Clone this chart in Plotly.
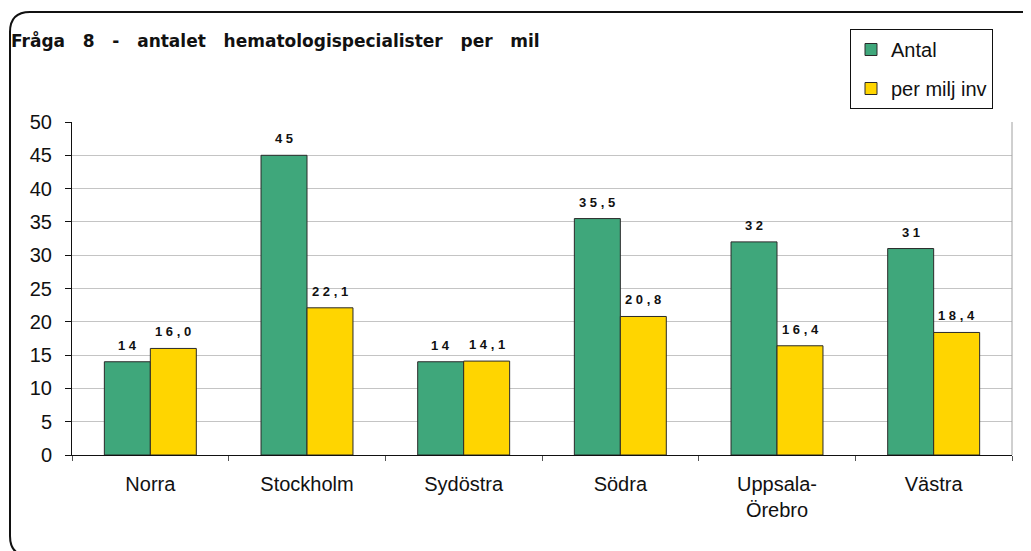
import plotly.graph_objects as go

categories = ["Norra", "Stockholm", "Sydöstra", "Södra", "Uppsala-<br>Örebro", "Västra"]
antal = [14, 45, 14, 35.5, 32, 31]
per_milj = [16.0, 22.1, 14.1, 20.8, 16.4, 18.4]
y_ticks = list(range(0, 51, 5))

GREEN = "#3FA77B"
YELLOW = "#FFD500"

OFF = 8  # page body margin
W, H = 1031 - OFF, 551 - OFF
PL, PR, PT, PB = 72, 1012, 122, 455  # plot area in screen coords
L, T = PL - OFF, PT - OFF
R, B = W - (PR - OFF), H - (PB - OFF)
PW, PH = PR - PL, PB - PT


def fmt_antal(v):
    s = str(int(v)) if float(v).is_integer() else f"{v:.1f}".replace(".", ",")
    return " ".join(s)


def fmt_milj(v):
    return " ".join(f"{v:.1f}".replace(".", ","))


def px(x):
    return (x - PL) / PW


def py(y):
    return (PB - y) / PH


fig = go.Figure()
fig.add_trace(go.Bar(x=categories, y=antal, name="Antal", legendgroup="a",
                     marker=dict(color=GREEN, line=dict(color="#2a2a2a", width=1))))
fig.add_trace(go.Bar(x=categories, y=per_milj, name="per milj inv", legendgroup="b",
                     marker=dict(color=YELLOW, line=dict(color="#2a2a2a", width=1))))

lab_font = dict(family="Liberation Sans", size=13, color="#111")
annotations = []
for c, v in zip(categories, antal):
    annotations.append(dict(x=c, y=v, xref="x", yref="y", text="<b>" + fmt_antal(v) + "</b>",
                            showarrow=False, xshift=-23, yshift=7, yanchor="bottom", font=lab_font))
for c, v in zip(categories, per_milj):
    annotations.append(dict(x=c, y=v, xref="x", yref="y", text="<b>" + fmt_milj(v) + "</b>",
                            showarrow=False, xshift=23, yshift=7, yanchor="bottom", font=lab_font))

annotations.append(dict(xref="paper", yref="paper", x=px(9), y=py(40), xanchor="left", yanchor="middle",
                        text="<b>Fråga   8   -   antalet   hematologispecialister   per   mil</b>",
                        showarrow=False, font=dict(family="DejaVu Sans", size=17, color="#111")))

r = 20
x0, y0, y1, xr = 10, 12, 556, 1045
path = (f"M {px(xr)} {py(y0)} L {px(x0 + r)} {py(y0)} Q {px(x0)} {py(y0)} {px(x0)} {py(y0 + r)} "
        f"L {px(x0)} {py(y1 - r)} Q {px(x0)} {py(y1)} {px(x0 + r)} {py(y1)} L {px(xr)} {py(y1)}")

shapes = [
    dict(type="path", xref="paper", yref="paper", path=path, line=dict(color="#111", width=2)),
    dict(type="line", xref="paper", yref="paper", x0=1, x1=1, y0=0, y1=1,
         line=dict(color="#a0a0a0", width=1)),
]

fig.update_layout(
    width=W, height=H,
    margin=dict(l=L, r=R, t=T, b=B, autoexpand=False),
    paper_bgcolor="white", plot_bgcolor="white",
    barmode="group", bargap=0.413, bargroupgap=0,
    font=dict(family="Liberation Sans", size=20, color="#111"),
    showlegend=True,
    legend=dict(x=px(850), y=py(29), xanchor="left", yanchor="top",
                bordercolor="#111", borderwidth=1, bgcolor="white",
                font=dict(family="Liberation Sans", size=20, color="#111"),
                tracegroupgap=10, itemwidth=30),
    xaxis=dict(showline=True, linecolor="#111", linewidth=1, ticks="outside", tickson="boundaries",
               ticklen=5, tickcolor="#555", showgrid=False, ticklabelstandoff=11,
               tickfont=dict(family="Liberation Sans", size=20, color="#111")),
    yaxis=dict(range=[0, 50], tickvals=y_ticks, showline=True, linecolor="#111", linewidth=1,
               ticks="outside", ticklen=6, tickcolor="#111", showgrid=True, gridcolor="#c4c4c4",
               gridwidth=1, zeroline=False, ticklabelstandoff=9,
               tickfont=dict(family="Liberation Sans", size=20, color="#111")),
    annotations=annotations,
    shapes=shapes,
)

fig.write_html("out.html")
